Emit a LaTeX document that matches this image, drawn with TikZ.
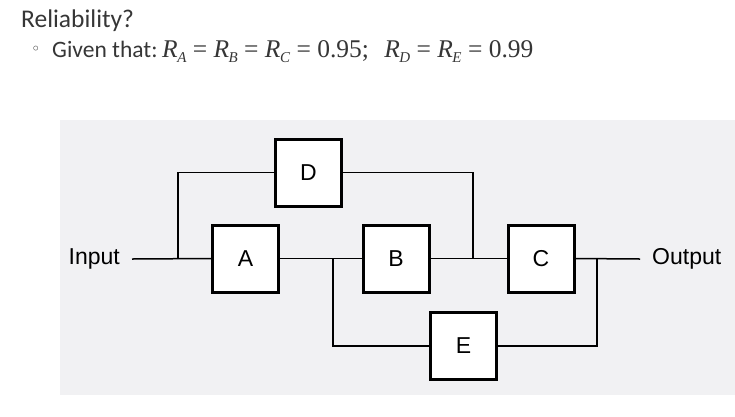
\documentclass[tikz,border=0pt]{standalone}
\usepackage{fontspec}
\setmainfont{Carlito}
\newfontfamily\tms{Liberation Serif}
\newfontfamily\arl{Liberation Sans}
\newfontfamily\dvs{DejaVu Sans}
\newcommand\relsub[1]{\textit{R}\kern-0.5pt\raisebox{-0.22em}{\fontsize{15}{15}\selectfont\textit{#1}}}
\definecolor{panel}{HTML}{F1F1F3}
\definecolor{heading}{HTML}{363636}
\begin{document}
\begin{tikzpicture}[
    x=1pt, y=-1pt,
    unit/.style={draw, fill=white, line width=3pt, minimum width=66pt, minimum height=67pt, inner sep=0pt,
      font=\arl\fontsize{23}{23}\selectfont},
    port/.style={inner xsep=12pt, inner ysep=0pt, font=\arl\fontsize{23}{23}\selectfont},
    wire/.style={line width=1.5pt},
    heading/.style={inner sep=0pt, text=heading, anchor=base west}
]
\useasboundingbox (0,0) rectangle (735,416);
\fill[panel] (60,120) rectangle (735,395);

% header text
\node[heading, font=\fontsize{25.5}{25.5}\selectfont] (title) at (21,27) {Reliability?};
\node[heading, font=\dvs\fontsize{16}{16}\selectfont] (dot) at (31,54) {◦};
\node[heading, font=\fontsize{23.5}{23.5}\selectfont] (given) at (52,57) {Given that:};
\node[heading, font=\tms\fontsize{25.5}{25.5}\selectfont] (values) at (162,57)
  {\relsub{A} = \relsub{B} = \relsub{C} = 0.95;\hspace{0.6em}\relsub{D} = \relsub{E} = 0.99};

% blocks
\node[unit] (D) at (308.5,172.5) {D};
\node[unit] (A) at (245.5,258.5) {A};
\node[unit] (B) at (396,258.5) {B};
\node[unit] (C) at (541,258.5) {C};
\node[unit] (E) at (463.5,346) {E};

\node[port, anchor=east] (in) at (132,259) {Input};
\node[port, anchor=west] (out) at (640,259) {Output};

\coordinate (splitin) at (178,259);
\coordinate (splitA) at (333,259);
\coordinate (joinD) at (473,259);
\coordinate (joinE) at (597,259);

\draw[wire] (in.east) -- (A.west);
\draw[wire] (A.east) -- (B.west);
\draw[wire] (B.east) -- (C.west);
\draw[wire] (C.east) -- (out.west);

\draw[wire] (splitin) |- (D.west);
\draw[wire] (D.east) -| (joinD);

\draw[wire] (splitA) |- (E.west);
\draw[wire] (E.east) -| (joinE);
\end{tikzpicture}
\end{document}
